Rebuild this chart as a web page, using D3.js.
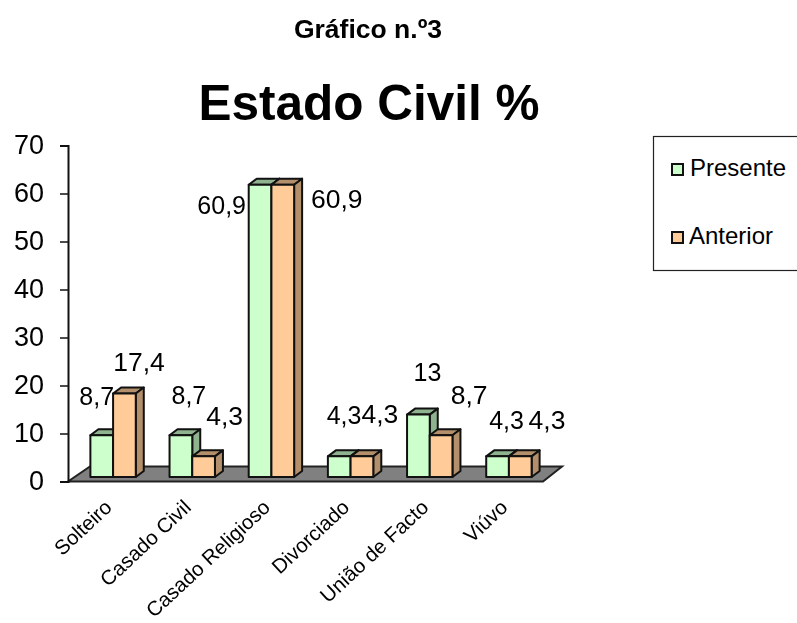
<!DOCTYPE html>
<html><head><meta charset="utf-8">
<script src="https://cdn.jsdelivr.net/npm/d3@7/dist/d3.min.js"></script>
<style>html,body{margin:0;background:#fff}svg{display:block;filter:blur(0.4px)}text{font-family:"Liberation Sans",Arial,sans-serif;fill:#000}</style>
</head><body><svg id="c" width="797" height="623"></svg>
<script>
const categories=["Solteiro","Casado Civil","Casado Religioso","Divorciado","União de Facto","Viúvo"];
const seriesNames=["Presente","Anterior"];
const presente=[8.7,8.7,60.9,4.3,13,4.3];
const anterior=[17.4,4.3,60.9,4.3,8.7,4.3];
const yTicks=[0,10,20,30,40,50,60,70];
const fills=["#CCFFCC","#FFCC99"];
const shades=["#8FB38F","#B38F6B"];
const labelDx=[[-5,8,-38.4,4.8,9,9],[14.6,21,54,18,28,26.7]];
const labelDy=[[-30,-31,29,-32,-34,-27],[-22,-31,23,-33,-31,-27]];
const labelFont=[25,26.5];
const values=[presente,anterior];

const svg=d3.select("#c");
const y=d3.scaleLinear().domain([0,70]).range([481.5,145.5]);
const x=d3.scaleBand().domain(categories).range([73.5,548.5]);
const inner=d3.scaleBand().domain(seriesNames).range([0,45.4]);
const groupX=c=>x(c)+(x.bandwidth()-inner.range()[1])/2;
const baseShift=-4.5, dX=8, dY=6;

svg.append("text").attr("x",368).attr("y",38).attr("text-anchor","middle").attr("font-weight","bold").attr("font-size",26.5).text("Gráfico n.º3");
svg.append("text").attr("x",369).attr("y",120).attr("text-anchor","middle").attr("font-weight","bold").attr("font-size",49.5).text("Estado Civil %");

svg.append("path").attr("d","M68,481.5L90,466.5L562,466.5L543,481.5Z").attr("fill","#808080").attr("stroke","#222").attr("stroke-width",2).attr("stroke-linejoin","miter");

const axis=d3.axisLeft(y).tickValues(yTicks).tickSize(8).tickPadding(16).tickFormat(d3.format("d"));
const ag=svg.append("g").attr("transform","translate(68,0)").call(axis);
ag.select(".domain").attr("stroke","#111").attr("stroke-width",2);
ag.selectAll(".tick line").attr("stroke","#111").attr("stroke-width",1.5);
ag.selectAll("text").attr("font-size",27).attr("dy","0.30em").style("font-family",'"Liberation Sans"');

seriesNames.forEach((s,si)=>{
  const g=svg.append("g");
  categories.forEach((c,i)=>{
    const v=values[si][i];
    const x0=groupX(c)+inner(s), x1=x0+inner.bandwidth();
    const yt=y(v)+baseShift, yb=y(0)+baseShift;
    const line=d3.line();
    const st={stroke:"#111","stroke-width":2,"stroke-linejoin":"round"};
    const poly=(pts,f)=>{const p=g.append("path").attr("d",line(pts)+"Z").attr("fill",f);for(const k in st)p.attr(k,st[k]);};
    poly([[x0,yt],[x0+dX,yt-dY],[x1+dX,yt-dY],[x1,yt]],shades[si]);
    poly([[x1,yt],[x1+dX,yt-dY],[x1+dX,yb-dY],[x1,yb]],shades[si]);
    poly([[x0,yt],[x1,yt],[x1,yb],[x0,yb]],fills[si]);
  });
});
seriesNames.forEach((s,si)=>{
  categories.forEach((c,i)=>{
    const v=values[si][i];
    const cx=groupX(c)+inner(s)+inner.bandwidth()/2;
    svg.append("text").attr("x",cx+labelDx[si][i]).attr("y",y(v)+baseShift+labelDy[si][i])
      .attr("text-anchor","middle").attr("font-size",labelFont[si]).text(String(v).replace(".",","));
  });
});

categories.forEach(c=>{
  const cx=x(c)+x.bandwidth()/2;
  svg.append("text").attr("transform",`translate(${cx},509) rotate(-43)`).attr("text-anchor","end").attr("font-size",20.5).text(c);
});

svg.append("rect").attr("x",653.5).attr("y",136.5).attr("width",150).attr("height",134).attr("fill","#fff").attr("stroke","#222").attr("stroke-width",1.2);
seriesNames.forEach((s,i)=>{
  const ly=[168,236][i];
  svg.append("rect").attr("x",672).attr("y",ly-4).attr("width",11).attr("height",11).attr("fill",fills[i]).attr("stroke","#111").attr("stroke-width",2);
  svg.append("text").attr("x",i==0?690:689).attr("y",ly+8).attr("font-size",24).text(s);
});
</script></body></html>
